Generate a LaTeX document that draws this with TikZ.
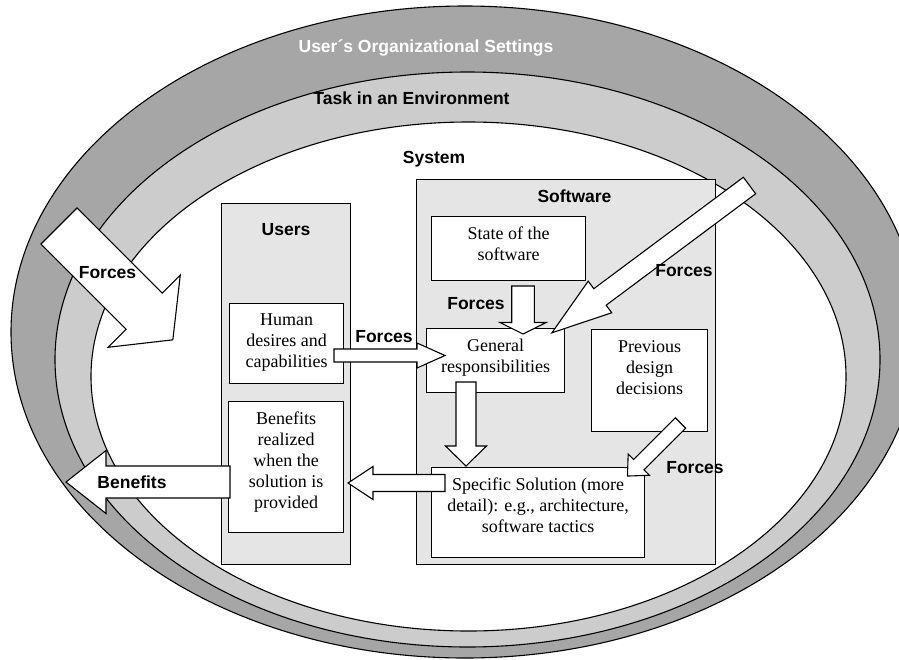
\documentclass[tikz,border=0pt]{standalone}
\usepackage{fontspec}
\setmainfont{Liberation Serif}
\newfontfamily\arialf{Liberation Sans}
\definecolor{outerg}{HTML}{A6A6A6}
\definecolor{midg}{HTML}{CCCCCC}
\definecolor{boxg}{HTML}{E5E5E5}
\tikzset{
  ring/.style={draw=black, line width=1.1pt},
  gbox/.style={draw=black, fill=boxg, line width=1.1pt, inner sep=0pt, anchor=north west},
  wbox/.style={draw=black, fill=white, line width=1.1pt, inner sep=0pt, anchor=north west},
  lab/.style={font=\arialf\bfseries\fontsize{17.5}{20}\selectfont, inner sep=0pt, text height=12.5pt, text depth=0pt},
  txt/.style={font=\fontsize{18}{21}\selectfont, align=center, inner sep=0pt, anchor=north},
  blockarrow/.style={draw=black, fill=white, line width=1.1pt, line join=miter},
}
\newcommand\barrow[7]{%
  \begin{scope}[shift={(#1,#2)}, rotate=#3]
    \draw[blockarrow] (0,#5) -- ({#4-#7},#5) -- ({#4-#7},#6) -- (#4,0) -- ({#4-#7},-#6) -- ({#4-#7},-#5) -- (0,-#5) -- cycle;
  \end{scope}}
\begin{document}
\begin{tikzpicture}[x=1pt,y=-1pt]
\useasboundingbox (0,0) rectangle (899,659);
\begin{scope}
  \clip (0,0) rectangle (899,659);
  \draw[ring, fill=outerg] (465,332) ellipse [x radius=454, y radius=326];
  \draw[ring, fill=midg] (467.5,359.5) ellipse [x radius=412.5, y radius=287.5];
  \draw[ring, fill=white] (468.5,376.5) ellipse [x radius=377.5, y radius=254.5];
\end{scope}

\node[lab, text=white] (orgl) at (426,46) {User´s Organizational Settings};
\node[lab] (taskl) at (411.5,98) {Task in an Environment};
\node[lab] (sysl) at (434,157) {System};

% containers
\node[gbox, minimum width=129pt, minimum height=361pt] (users) at (221,203) {};
\node[gbox, minimum width=299pt, minimum height=385pt] (soft) at (416,179) {};
\node[lab] (usersl) at (286,229) {Users};
\node[lab] (softl) at (574.5,196) {Software};

% inner boxes
\node[wbox, minimum width=114pt, minimum height=80pt] (human) at (229,303) {};
\node[wbox, minimum width=115pt, minimum height=131pt] (benef) at (228,401) {};
\node[wbox, minimum width=154pt, minimum height=64pt] (state) at (431,216) {};
\node[wbox, minimum width=138pt, minimum height=64pt] (general) at (426,328) {};
\node[wbox, minimum width=116pt, minimum height=102pt] (prev) at (591,329) {};
\node[wbox, minimum width=213pt, minimum height=90pt] (spec) at (431,467) {};

% block arrows: tail x, tail y, angle, length, shaft half, head half, head length
\barrow{59}{226}{-45}{161}{25.5}{51}{40.5}
\barrow{230}{482}{180}{164}{16}{31.5}{40}
\barrow{334}{355.5}{0}{111}{6.5}{12.5}{28}
\barrow{523}{286}{-90}{48}{11.3}{23}{11.5}
\barrow{749.5}{185.5}{-143.3}{246.5}{10.3}{19.7}{60}
\barrow{680.5}{423}{-135}{75}{7.3}{15}{16}
\barrow{466}{382}{-90}{84}{10}{20.5}{20}
\barrow{445}{483}{180}{97}{8.5}{16.5}{25}

% box texts
\node[txt] (humant) at ([yshift=-11pt]human.north) {Human\\desires and\\capabilities};
\node[txt] (beneft) at ([yshift=-11pt]benef.north) {Benefits\\realized\\when the\\solution is\\provided};
\node[txt] (statet) at ([yshift=-11pt]state.north) {State of the\\software};
\node[txt] (generalt) at ([yshift=-11pt]general.north) {General\\responsibilities};
\node[txt] (prevt) at ([yshift=-11pt]prev.north) {Previous\\design\\decisions};
\node[txt] (spect) at ([yshift=-11pt]spec.north) {Specific Solution (more\\detail): e.g., architecture,\\software tactics};

% arrow labels
\node[lab] (fA) at (107.5,272) {Forces};
\node[lab] (bB) at (132,482) {Benefits};
\node[lab] (fC) at (384,336) {Forces};
\node[lab] (fD) at (476,303) {Forces};
\node[lab] (fE) at (684,270) {Forces};
\node[lab] (fF) at (695,467) {Forces};
\end{tikzpicture}
\end{document}
